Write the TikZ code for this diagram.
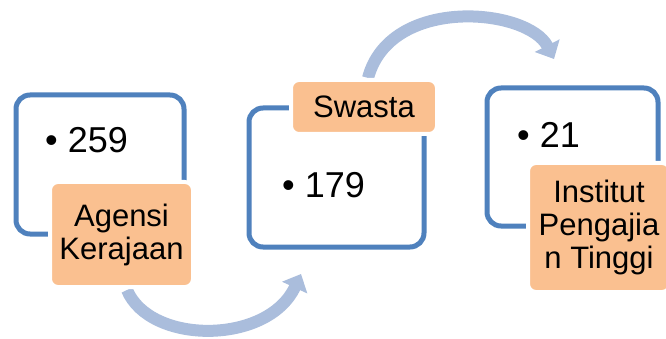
\documentclass[tikz,border=0pt]{standalone}
\usepackage{fontspec}
\setmainfont{Liberation Sans}
\usetikzlibrary{arrows.meta}
\definecolor{framecol}{HTML}{4F81BD}
\definecolor{labelcol}{HTML}{FAC090}
\definecolor{arccol}{HTML}{AABDDC}
\tikzset{
  frame/.style={draw=framecol, line width=5pt, rounded corners=14pt, fill=white},
  labelbox/.style={fill=labelcol, draw=white, line width=4pt, rounded corners=8pt,
    align=center, inner sep=0pt, font=\fontsize{31}{33}\selectfont},
  bullettext/.style={anchor=base west, inner sep=0pt, font=\fontsize{36}{40}\selectfont},
  arcarrow/.style={draw=arccol, line width=12pt, -{Triangle[width=27pt,length=15pt]}}
}
\begin{document}
\begin{tikzpicture}[x=1pt,y=-1pt]
\useasboundingbox (0,0) rectangle (666,339);
% connectors (behind)
\coordinate (a1s) at (127,290);
\coordinate (a1e) at (301,274);
\coordinate (a2s) at (368,78);
\coordinate (a2e) at (554,59);
\draw[arcarrow] (a1s) .. controls (150,345) and (268,345) .. (a1e);
\draw[arcarrow] (a2s) .. controls (390,-5) and (528,8) .. (a2e);
% frames
\node[frame, minimum width=168pt, minimum height=139pt] (f1) at (100,164.5) {};
\node[frame, minimum width=175pt, minimum height=139pt] (f2) at (336.5,177.5) {};
\node[frame, minimum width=171pt, minimum height=138pt] (f3) at (572.5,157) {};
% bullet texts
\node[bullettext] (t1) at (45,153) {• 259};
\node[bullettext] (t2) at (282,197) {• 179};
\node[bullettext] (t3) at (517,148) {• 21};
% labels
\node[labelbox, minimum width=143pt, minimum height=105pt] (l1) at (121.5,234.5) {Agensi\\Kerajaan};
\node[labelbox, minimum width=146pt, minimum height=54pt] (l2) at (364,107) {Swasta};
\node[labelbox, minimum width=142pt, minimum height=129pt] (l3) at (599,227.5) {Institut\\Pengajia\\n Tinggi};
\end{tikzpicture}
\end{document}
